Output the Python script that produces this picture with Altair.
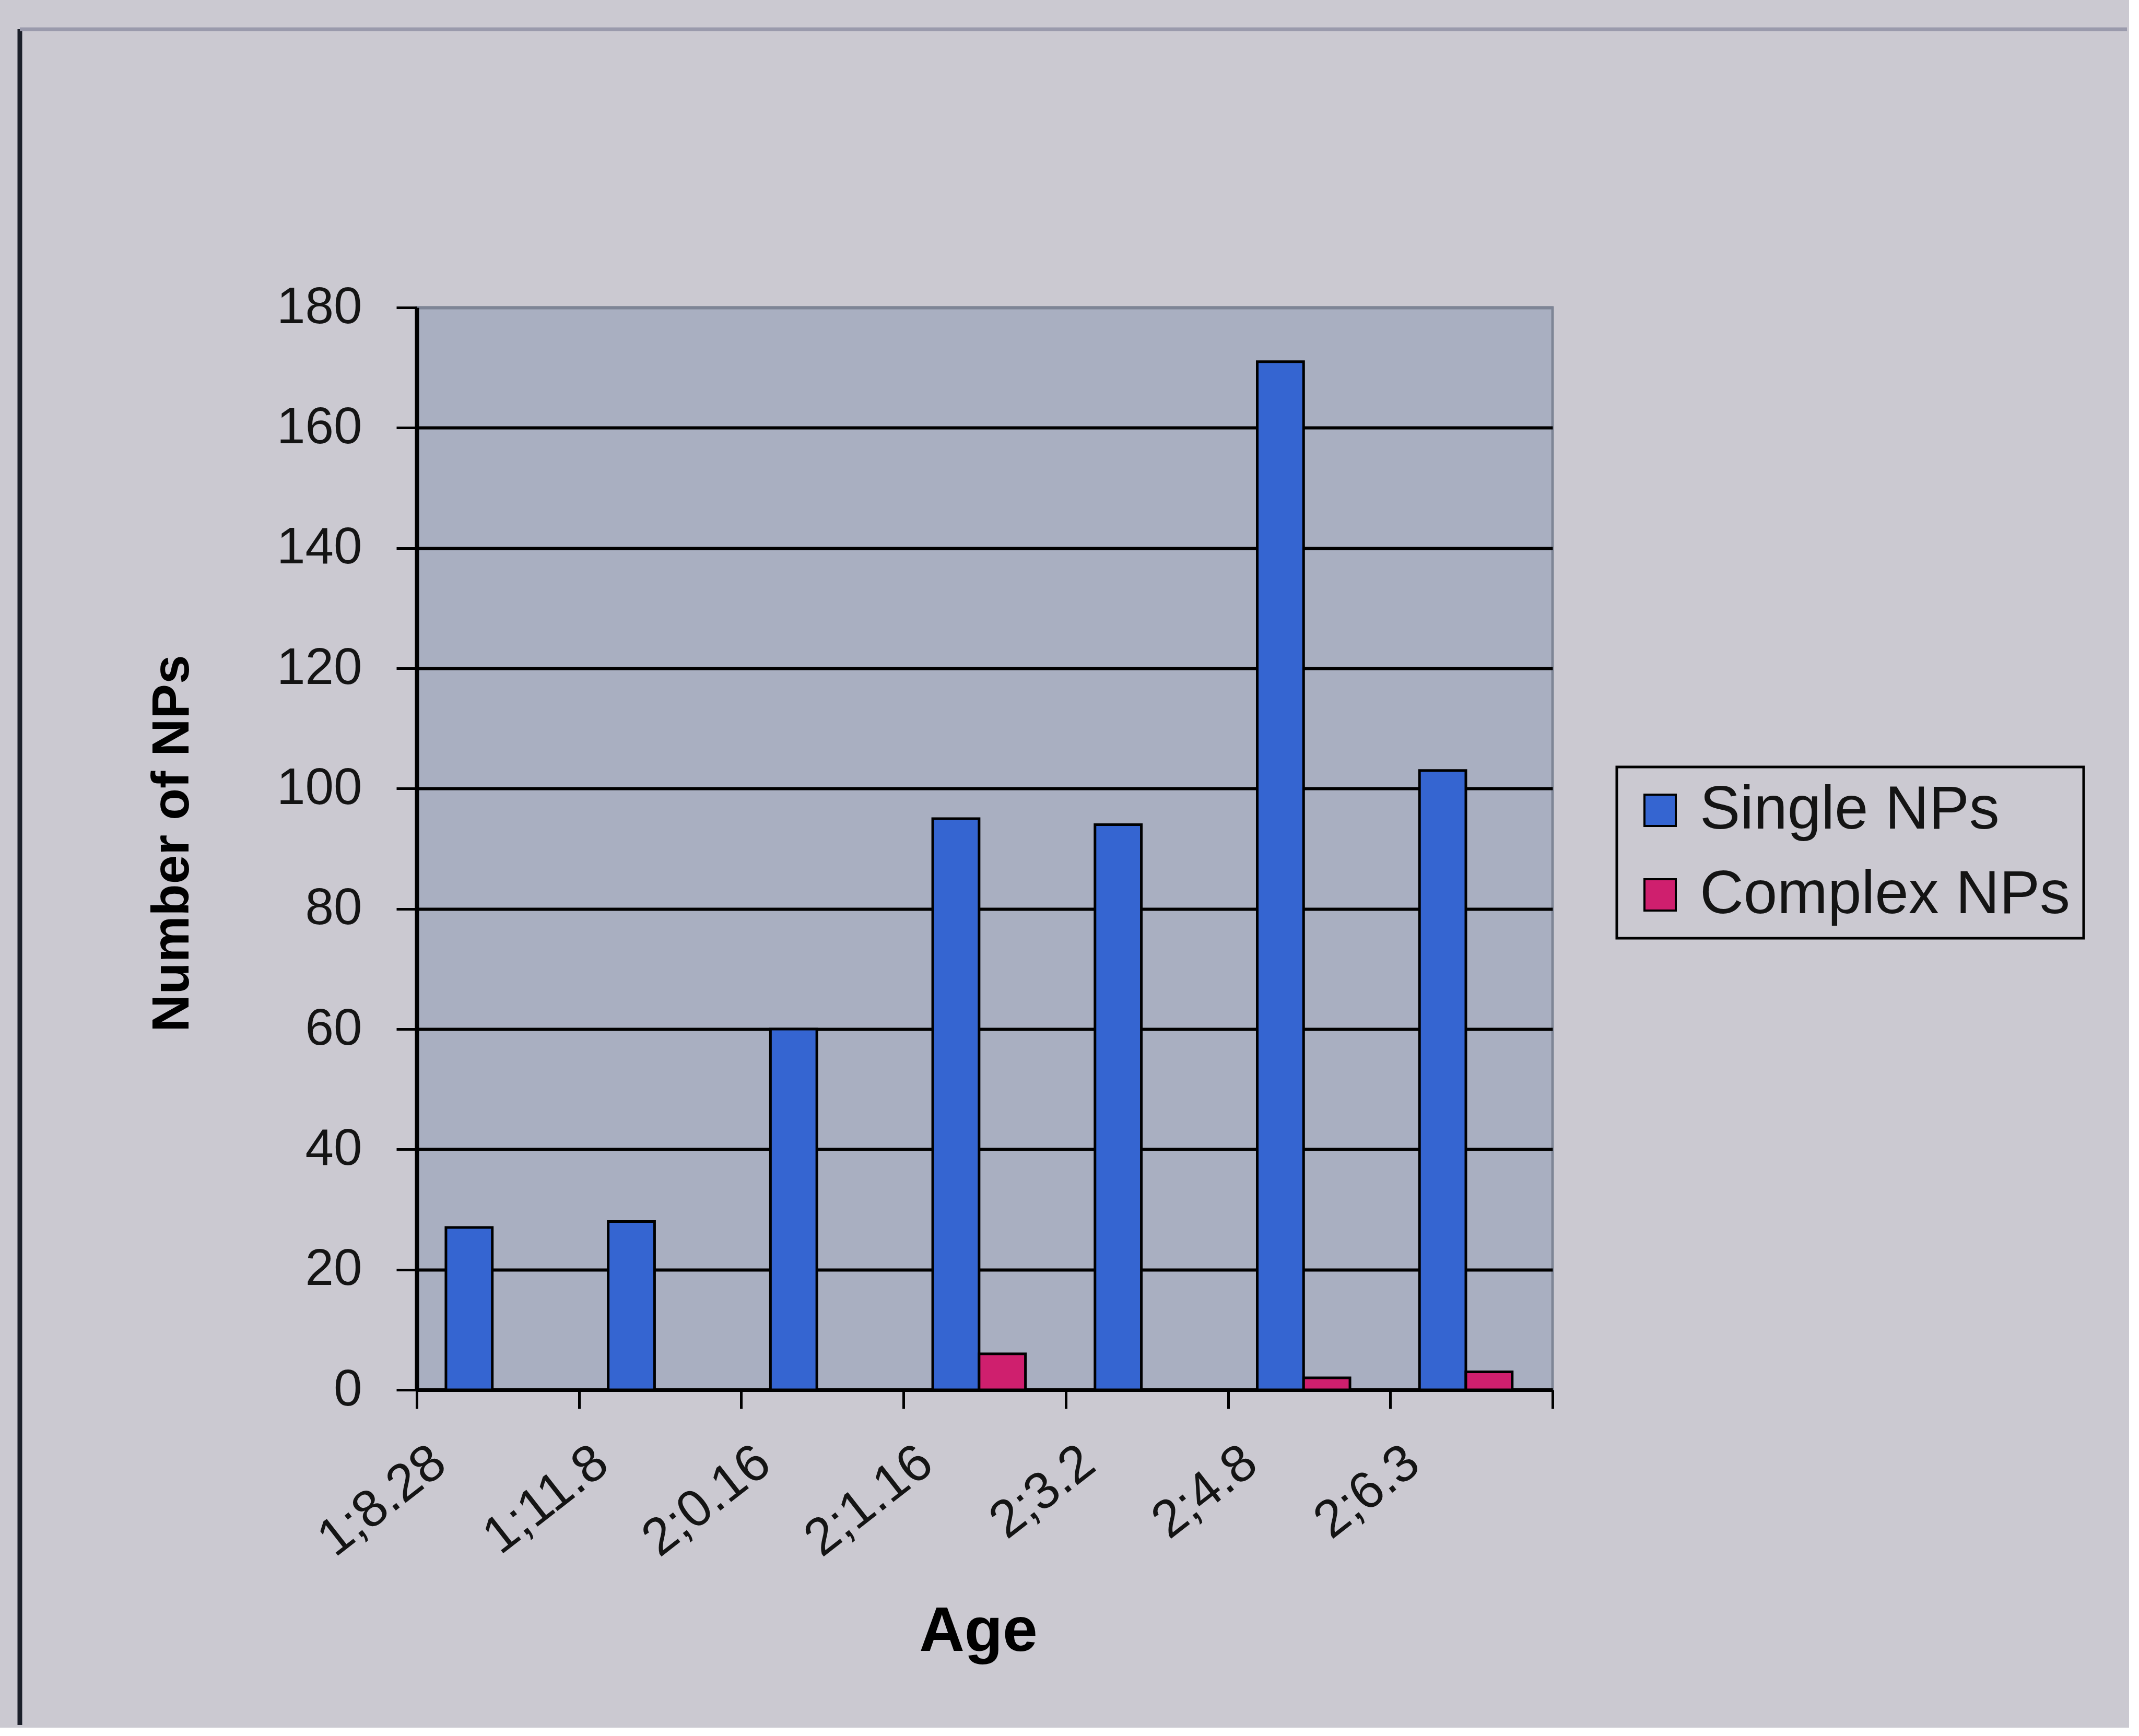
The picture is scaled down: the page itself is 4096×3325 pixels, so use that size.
import altair as alt
import pandas as pd

# Ages of the recording sessions (years;months.days)
ages = ["1;8.28", "1;11.8", "2;0.16", "2;1.16", "2;3.2", "2;4.8", "2;6.3"]
series = ["Single NPs", "Complex NPs"]
single_nps = [27, 28, 60, 95, 94, 171, 103]
complex_nps = [0, 0, 0, 6, 0, 2, 3]
series_colors = ["#3565d1", "#cf1f6e"]
y_ticks = [0, 20, 40, 60, 80, 100, 120, 140, 160, 180]

rows = []
for age, s, c in zip(ages, single_nps, complex_nps):
    rows.append({"Age": age, "Series": series[0], "Count": s})
    if c > 0:
        rows.append({"Age": age, "Series": series[1], "Count": c})
df = pd.DataFrame(rows)

W, H = 2175, 2073
FONT = "Liberation Sans"

bars = alt.Chart(df).mark_bar(stroke="black", strokeWidth=5).encode(
    x=alt.X(
        "Age:N",
        sort=ages,
        scale=alt.Scale(paddingInner=0, paddingOuter=0),
        axis=alt.Axis(
            title="Age",
            titleFont=FONT,
            titleFontSize=120,
            titleFontWeight="bold",
            titleColor="black",
            titleX=1075,
            titleY=463,
            titleAlign="center",
            titleBaseline="middle",
            labelFont=FONT,
            labelFontSize=100,
            labelColor="#141414",
            labelAngle=-38,
            labelAlign="right",
            labelBaseline="middle",
            labelOffset=-112,
            labelPadding=91,
            labelLimit=2000,
            labelOverlap=False,
            tickBand="extent",
            tickSize=36,
            tickWidth=5,
            tickColor="black",
            domainColor="black",
            domainWidth=7,
            grid=False,
        ),
    ),
    xOffset=alt.XOffset(
        "Series:N",
        sort=series,
        scale=alt.Scale(domain=series, paddingInner=0, paddingOuter=0.75, align=0.42),
    ),
    y=alt.Y(
        "Count:Q",
        scale=alt.Scale(domain=[0, 180], nice=False, zero=True),
        axis=alt.Axis(
            title="Number of NPs",
            titleFont=FONT,
            titleFontSize=100,
            titleFontWeight="bold",
            titleColor="black",
            titleAngle=-90,
            titleX=-468,
            titleY=1026,
            titleAlign="center",
            titleBaseline="middle",
            values=y_ticks,
            labelFont=FONT,
            labelFontSize=98,
            labelColor="#141414",
            labelPadding=66,
            labelBaseline="middle",
            tickSize=39,
            tickWidth=5,
            tickColor="black",
            domainColor="black",
            domainWidth=8,
            grid=True,
            gridColor={"condition": {"test": "datum.value >= 180", "value": "#7e8596"}, "value": "black"},
            gridWidth=6,
        ),
    ),
    color=alt.Color(
        "Series:N",
        scale=alt.Scale(domain=series, range=series_colors),
        legend=alt.Legend(
            title=None,
            orient="none",
            legendX=2298,
            legendY=880,
            direction="vertical",
            symbolType="square",
            symbolSize=3600,
            symbolStrokeColor="black",
            symbolStrokeWidth=4,
            symbolOpacity=1,
            labelFont=FONT,
            labelFontSize=116,
            labelColor="#141414",
            labelOffset=18,
            labelLimit=2000,
            rowPadding=46,
            padding=25,
            strokeColor="black",
        ),
    ),
)

# Outer chart-area border: dark left edge and light top edge
frame_src = alt.Chart(pd.DataFrame({"k": [0]}))
left_edge = frame_src.mark_rule(color="#1b1f2a", strokeWidth=9).encode(
    x=alt.value(-760), y=alt.value(-533), y2=alt.value(2715)
)
top_edge = frame_src.mark_rule(color="#9a9aac", strokeWidth=7).encode(
    x=alt.value(-760), x2=alt.value(3275), y=alt.value(-533)
)

chart = (
    alt.layer(left_edge, top_edge, bars)
    .properties(width=W, height=H, padding={"left": 33, "top": 51, "right": 0, "bottom": 0})
    .configure(background="#cbc9d1", font=FONT)
    .configure_view(fill="#a9afc1", stroke="#7e8596", strokeWidth=5)
    .configure_legend(strokeWidth=5)
)

chart.save("out.html", embed_options={"renderer": "svg", "actions": False})
